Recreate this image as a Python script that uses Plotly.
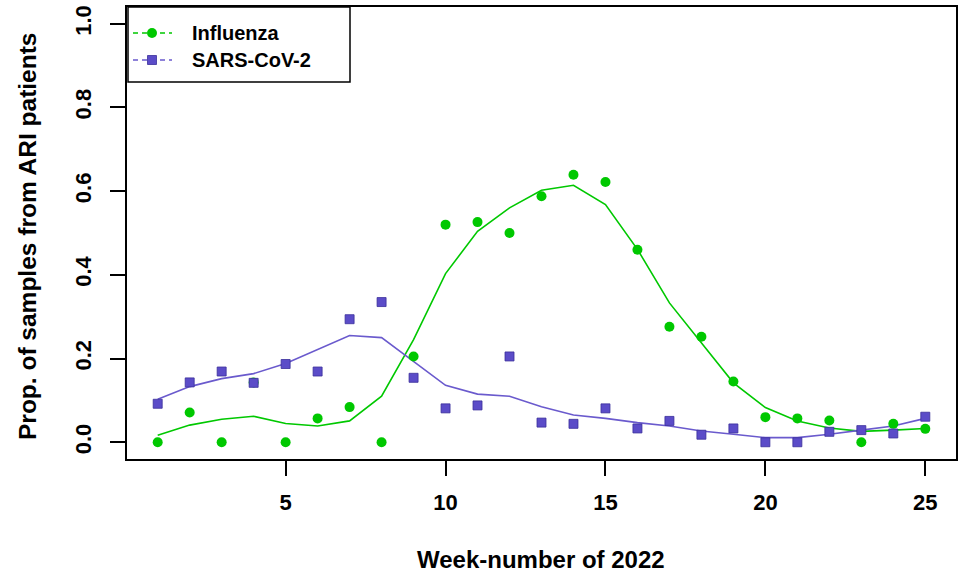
import plotly.graph_objects as go

# Week numbers of 2022
weeks = list(range(1, 26))

# Observed proportions of positive samples
influenza_obs = [0.000, 0.071, 0.000, 0.143, 0.000, 0.057, 0.084, 0.000, 0.205, 0.520,
                 0.526, 0.500, 0.588, 0.639, 0.622, 0.460, 0.276, 0.252, 0.145, 0.060,
                 0.057, 0.052, 0.000, 0.044, 0.032]
sars_obs = [0.092, 0.143, 0.169, 0.142, 0.187, 0.169, 0.294, 0.335, 0.154, 0.081,
            0.088, 0.205, 0.047, 0.044, 0.081, 0.033, 0.051, 0.018, 0.033, 0.000,
            0.000, 0.025, 0.029, 0.021, 0.061]

# Smoothed trend curves
influenza_trend = [0.017, 0.041, 0.055, 0.062, 0.045, 0.039, 0.051, 0.110, 0.245, 0.403,
                   0.504, 0.560, 0.602, 0.614, 0.568, 0.461, 0.333, 0.238, 0.142, 0.083,
                   0.051, 0.034, 0.026, 0.029, 0.033]
sars_trend = [0.103, 0.133, 0.152, 0.164, 0.188, 0.222, 0.255, 0.250, 0.192, 0.136,
              0.115, 0.110, 0.085, 0.065, 0.057, 0.047, 0.039, 0.027, 0.019, 0.011,
              0.011, 0.019, 0.029, 0.039, 0.057]

series_names = ["Influenza", "SARS-CoV-2"]
y_ticks = [0.0, 0.2, 0.4, 0.6, 0.8, 1.0]
y_tick_text = ["0.0", "0.2", "0.4", "0.6", "0.8", "1.0"]
x_ticks = [5, 10, 15, 20, 25]

GREEN = "#00C800"
PURPLE = "#6A5ACD"
SQUARE = "#5B4CC8"
FONT = "Liberation Sans"

fig = go.Figure()

fig.add_trace(go.Scatter(x=weeks, y=influenza_trend, mode="lines",
                         line=dict(color=GREEN, width=1.6), showlegend=False))
fig.add_trace(go.Scatter(x=weeks, y=sars_trend, mode="lines",
                         line=dict(color=PURPLE, width=1.6), showlegend=False))
fig.add_trace(go.Scatter(x=weeks, y=influenza_obs, mode="markers",
                         marker=dict(symbol="circle", size=10, color=GREEN,
                                     line=dict(width=0)), showlegend=False))
fig.add_trace(go.Scatter(x=weeks, y=sars_obs, mode="markers",
                         marker=dict(symbol="square", size=9, color=SQUARE,
                                     line=dict(width=0.8, color="#3a2f9a")), showlegend=False))

# Legend box drawn in the top-left corner of the panel
L0, L1 = 128, 350          # box pixel extents (horizontal)
T0, T1 = 7, 82             # box pixel extents (vertical)
W, H = 961, 579
ML, MR, MT, MB = 127, 5, 7, 120
PW, PH = W - ML - MR, H - MT - MB


def px(xp):
    return (xp - ML) / PW


def py(yp):
    return 1 - (yp - MT) / PH


shapes = [dict(type="rect", xref="paper", yref="paper",
               x0=px(L0), x1=px(L1), y0=py(T1), y1=py(T0),
               line=dict(color="black", width=1.5), fillcolor="white", layer="above")]
annotations = []
legend_rows = [(33, GREEN, "circle"), (60, PURPLE, "square")]
for (row_y, col, sym), name in zip(legend_rows, series_names):
    shapes.append(dict(type="line", xref="paper", yref="paper",
                       x0=px(133), x1=px(172), y0=py(row_y), y1=py(row_y),
                       line=dict(color=col, width=1.5, dash="5px,4px"), layer="above"))
    if sym == "circle":
        shapes.append(dict(type="circle", xref="paper", yref="paper",
                           x0=px(147), x1=px(157), y0=py(row_y + 5), y1=py(row_y - 5),
                           line=dict(width=0), fillcolor=GREEN, layer="above"))
    else:
        shapes.append(dict(type="rect", xref="paper", yref="paper",
                           x0=px(147.5), x1=px(156.5), y0=py(row_y + 4.5), y1=py(row_y - 4.5),
                           line=dict(width=0.8, color="#3a2f9a"), fillcolor=SQUARE, layer="above"))
    annotations.append(dict(xref="paper", yref="paper", x=px(190), y=py(row_y),
                            xanchor="left", yanchor="middle", showarrow=False,
                            text="<b>%s</b>" % name,
                            font=dict(family=FONT, size=20, color="black")))

# Axis titles
annotations.append(dict(xref="paper", yref="paper", x=px(541), y=py(559),
                        xanchor="center", yanchor="middle", showarrow=False,
                        text="<b>Week-number of 2022</b>",
                        font=dict(family=FONT, size=24, color="black")))
annotations.append(dict(xref="paper", yref="paper", x=px(28), y=py(236),
                        xanchor="center", yanchor="middle", showarrow=False, textangle=-90,
                        text="<b>Prop. of samples from ARI patients</b>",
                        font=dict(family=FONT, size=24.5, color="black")))

fig.update_layout(
    width=W, height=H,
    margin=dict(l=ML, r=MR, t=MT, b=MB, autoexpand=False),
    paper_bgcolor="white", plot_bgcolor="white",
    shapes=shapes, annotations=annotations,
    xaxis=dict(range=[0.04, 25.96], tickvals=x_ticks, ticks="outside", ticklen=15,
               tickwidth=1.5, tickcolor="black", showgrid=False, zeroline=False,
               showline=True, mirror=True, linecolor="black", linewidth=1.5,
               ticklabelstandoff=8,
               tickfont=dict(family=FONT, size=22, color="black", weight="bold")),
    yaxis=dict(range=[-0.04, 1.04], tickvals=y_ticks, ticktext=y_tick_text,
               ticks="outside", ticklen=15, tickwidth=1.5, tickcolor="black",
               tickangle=-90, showgrid=False, zeroline=False,
               showline=True, mirror=True, linecolor="black", linewidth=1.5,
               ticklabelstandoff=10,
               tickfont=dict(family=FONT, size=22, color="black", weight="bold")),
)

fig.write_html("out.html")
